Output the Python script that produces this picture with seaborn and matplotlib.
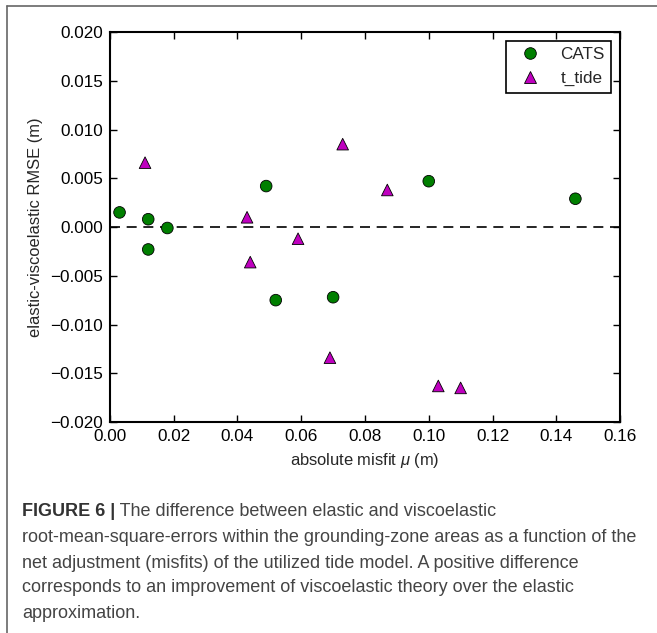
import numpy as np
import pandas as pd
import matplotlib.pyplot as plt
import seaborn as sns
from matplotlib.lines import Line2D

# data
cats_misfit = [0.003, 0.012, 0.012, 0.018, 0.049, 0.052, 0.070, 0.100, 0.146]
cats_rmse = [0.0015, 0.0008, -0.0023, -0.0001, 0.0042, -0.0075, -0.0072, 0.0047, 0.0029]
ttide_misfit = [0.011, 0.043, 0.044, 0.059, 0.073, 0.087, 0.069, 0.103, 0.110]
ttide_rmse = [0.0066, 0.0010, -0.0036, -0.0012, 0.0085, 0.0038, -0.0134, -0.0163, -0.0165]

x_ticks = [0.00, 0.02, 0.04, 0.06, 0.08, 0.10, 0.12, 0.14, 0.16]
y_ticks = [-0.020, -0.015, -0.010, -0.005, 0.000, 0.005, 0.010, 0.015, 0.020]

caption_head = "FIGURE 6 |"
caption_lines = [
    " The difference between elastic and viscoelastic",
    "root-mean-square-errors within the grounding-zone areas as a function of the",
    "net adjustment (misfits) of the utilized tide model. A positive difference",
    "corresponds to an improvement of viscoelastic theory over the elastic",
    "approximation.",
]

df = pd.DataFrame({
    "misfit": cats_misfit + ttide_misfit,
    "rmse": cats_rmse + ttide_rmse,
    "model": ["CATS"] * len(cats_misfit) + ["t_tide"] * len(ttide_misfit),
})

sns.set_style("ticks")
plt.rcParams["font.family"] = ["Liberation Sans", "DejaVu Sans"]
plt.rcParams["mathtext.fontset"] = "custom"
plt.rcParams["mathtext.it"] = "Liberation Sans:italic"

fig = plt.figure(figsize=(6.57, 6.33), dpi=100)
ax = fig.add_axes([0.1674, 0.3333, 0.7763, 0.6161])

ax.axhline(0, color="black", ls=(0, (6, 4)), lw=1.2, zorder=1)

sns.scatterplot(data=df, x="misfit", y="rmse", hue="model", style="model",
                palette={"CATS": "#007f00", "t_tide": "#bf00bf"},
                markers={"CATS": "o", "t_tide": "^"},
                s=70, edgecolor="black", linewidth=0.6, ax=ax, zorder=3)

ax.set_xlim(0, 0.16)
ax.set_ylim(-0.02, 0.02)
ax.set_xticks(x_ticks)
ax.set_yticks(y_ticks)
ax.set_xticklabels([f"{v:.2f}" for v in x_ticks])
ax.set_yticklabels([f"{v:.3f}".replace("-", "\u2212") for v in y_ticks])
ax.tick_params(direction="in", top=True, right=True, length=5, width=1,
               labelsize=12.3, colors="black", pad=5)
for sp in ax.spines.values():
    sp.set_linewidth(1.5)
    sp.set_color("black")
    sp.set_visible(True)

ax.set_xlabel(r"absolute misfit $\mu$ (m)", fontsize=11.9, labelpad=5)
ax.set_ylabel("elastic-viscoelastic RMSE (m)", fontsize=11.9, labelpad=5)

handles, labels = ax.get_legend_handles_labels()
leg = ax.legend(handles, labels, loc="upper right", fontsize=12.3, fancybox=False,
                frameon=True, edgecolor="black", framealpha=1, borderpad=0.4,
                handletextpad=0.75, markerscale=1.0, borderaxespad=0.5)
leg.get_frame().set_linewidth(1.2)

# caption
fig.canvas.draw()
r = fig.canvas.get_renderer()
x0 = 22 / 657
ys = [512, 537, 563, 588, 613]
cap_fs = 12.95
t = fig.text(x0, 1 - ys[0] / 633, caption_head, fontsize=cap_fs, fontweight="bold",
             color="#333333", va="center", ha="left")
bb = t.get_window_extent(r)
fig.text(bb.x1 / fig.bbox.width, 1 - ys[0] / 633, caption_lines[0], fontsize=cap_fs,
         color="#444444", va="center", ha="left")
for line, y in zip(caption_lines[1:], ys[1:]):
    fig.text(x0, 1 - y / 633, line, fontsize=cap_fs, color="#444444", va="center", ha="left")

# frame around figure
fig.add_artist(Line2D([7 / 657, 1], [1 - 6 / 633, 1 - 6 / 633], color="#666666", lw=1.2))
fig.add_artist(Line2D([7 / 657, 7 / 657], [0, 1 - 6 / 633], color="#666666", lw=1.2))

fig.savefig("out.png", dpi=100)
